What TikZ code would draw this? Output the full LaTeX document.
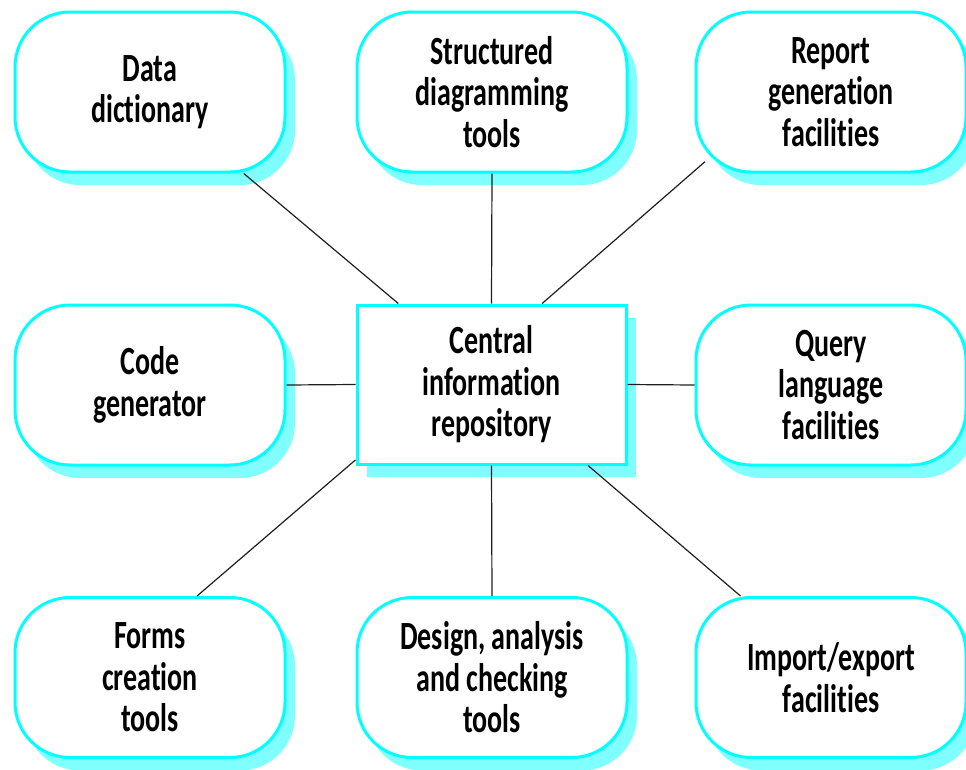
\documentclass[tikz,border=0pt]{standalone}
\usepackage{fontspec}
\setmainfont{Carlito}[FakeStretch=0.7, Ligatures=NoCommon]
\usepackage{tikz}
\usepackage{xcolor}
\usetikzlibrary{positioning, calc, shadows}
\definecolor{cBorder}{RGB}{0,255,255}
\definecolor{cShadow}{RGB}{128,255,255}
\definecolor{cLink}{RGB}{30,30,30}
\tikzset{
	tool/.style   ={rectangle, rounded corners=55pt, minimum width=270pt, minimum height=160pt, align=center, draw=cBorder, line width=3pt, fill=white,
	                drop shadow={shadow xshift=10pt, shadow yshift=-13pt, fill=cShadow, opacity=1}},
	repobox/.style={rectangle, minimum width=269pt, minimum height=159pt, align=center, draw=cBorder, line width=3pt, fill=white,
	                drop shadow={shadow xshift=10pt, shadow yshift=-13pt, fill=cShadow, opacity=1}},
	link/.style   ={draw=cLink, line width=1.2pt},
}

\begin{document}
\begin{tikzpicture}[x=1pt, y=-1pt, font=\bfseries\fontsize{40}{41.5}\selectfont]
	\useasboundingbox (0,0) rectangle (966,769);
	% central repository
	\node[repobox] (repo) at (491.5,384.5) {Central\\information\\repository};
	% surrounding tools
	\foreach \nm/\x/\y/\lab in {
		dd/150/92/{Data\\dictionary},
		sdt/492/92/{Structured\\diagramming\\tools},
		rep/831/92/{Report\\generation\\facilities},
		code/150/385/{Code\\generator},
		query/831/385/{Query\\language\\facilities},
		forms/150/677.5/{Forms\\creation\\tools},
		design/492/677.5/{Design, analysis\\and checking\\tools},
		imp/831/677.5/{Import/export\\facilities}} {
		\node[tool] (\nm) at (\x,\y) {\lab};
	}
	% connectors
	\foreach \a/\b/\ext in {repo.139/dd.319.3/0, repo.north/sdt.south/0, repo.58.6/rep.210/-14,
		repo.west/code.east/0, repo.east/query.west/0, repo.209.3/forms.60.4/0,
		repo.south/design.north/0, repo.320.1/imp.138.5/0} {
		\draw[link, shorten >=\ext pt] (\a) -- (\b);
	}
\end{tikzpicture}
\end{document}
